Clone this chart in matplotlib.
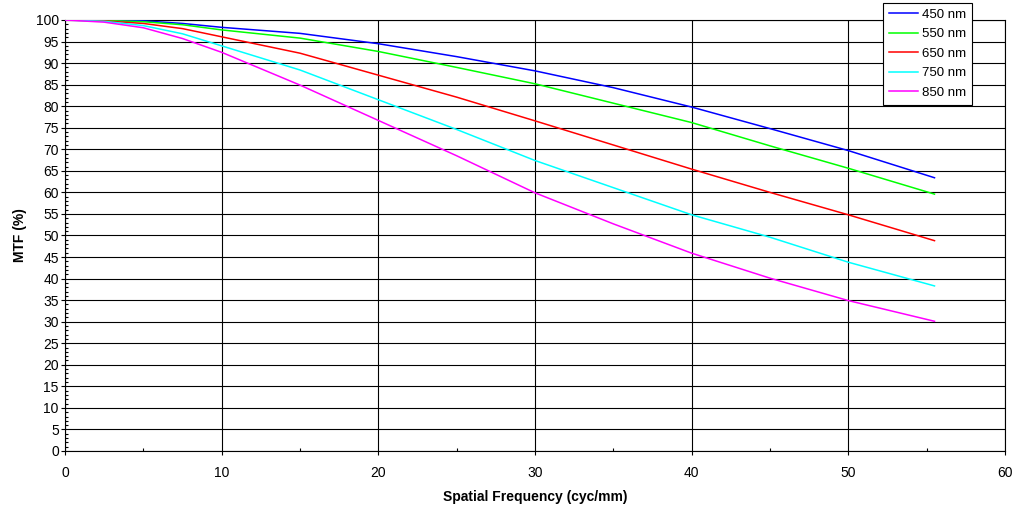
import numpy as np
import matplotlib
matplotlib.use("Agg")
import matplotlib.pyplot as plt
from matplotlib.ticker import MultipleLocator

plt.rcParams['font.family'] = ['Liberation Sans', 'DejaVu Sans']

# spatial frequency (cyc/mm) and MTF (%)
freq = [0, 2.5, 5, 7.5, 10, 15, 20, 25, 30, 35, 40, 45, 50, 55.5]
mtf_450 = [100, 100, 99.8, 99.2, 98.3, 96.9, 94.5, 91.5, 88.2, 84.3, 79.8, 74.8, 69.7, 63.4]
mtf_550 = [100, 99.9, 99.6, 98.9, 97.7, 95.8, 92.7, 89.0, 85.2, 80.7, 76.2, 70.8, 65.6, 59.6]
mtf_650 = [100, 99.8, 99.2, 98.0, 96.1, 92.3, 87.2, 82.1, 76.6, 71.0, 65.4, 60.0, 54.8, 48.8]
mtf_750 = [100, 99.7, 98.7, 96.8, 94.0, 88.4, 81.5, 74.6, 67.4, 61.1, 54.8, 49.6, 43.8, 38.3]
mtf_850 = [100, 99.5, 98.2, 95.7, 92.5, 84.9, 76.7, 68.5, 59.9, 52.7, 45.9, 40.1, 34.9, 30.1]

labels = ['450 nm', '550 nm', '650 nm', '750 nm', '850 nm']
colors = ['#0000ff', '#00ff00', '#ff0000', '#00ffff', '#ff00ff']
series = [mtf_450, mtf_550, mtf_650, mtf_750, mtf_850]

fig = plt.figure(figsize=(10.15, 5.05), dpi=100)
ax = fig.add_axes([65/1015, 1 - 451/505, 940/1015, 431/505])

for y, c, lab in zip(series, colors, labels):
    ax.plot(freq, y, color=c, lw=1.1, label=lab, zorder=3)

ax.set_xlim(0, 60)
ax.set_ylim(0, 100)
ax.xaxis.set_major_locator(MultipleLocator(10))
ax.xaxis.set_minor_locator(MultipleLocator(5))
ax.yaxis.set_major_locator(MultipleLocator(5))
ax.yaxis.set_minor_locator(MultipleLocator(1))
ax.grid(True, which='major', color='black', lw=0.8)
ax.tick_params(which='major', direction='out', length=3, width=0.8, labelsize=10, colors='black')
ax.tick_params(axis='x', which='major', pad=8)
ax.tick_params(axis='y', which='major', pad=1.5)
ax.tick_params(which='minor', direction='in', length=2.5, width=0.8)
for s in ax.spines.values():
    s.set_linewidth(0.8)

ax.set_xlabel('Spatial Frequency (cyc/mm)', fontsize=10, fontweight='bold', labelpad=7)
ax.set_ylabel('MTF (%)', fontsize=10, fontweight='bold', labelpad=6)

leg = ax.legend(loc='upper right', bbox_to_anchor=(0.965, 1.04), fontsize=9.5,
                frameon=True, fancybox=False, edgecolor='black', framealpha=1,
                handlelength=2.2, handletextpad=0.3, labelspacing=0.55,
                borderpad=0.45, borderaxespad=0)
leg.get_frame().set_linewidth(0.8)
leg.set_zorder(5)

fig.savefig('out.png', dpi=100)
